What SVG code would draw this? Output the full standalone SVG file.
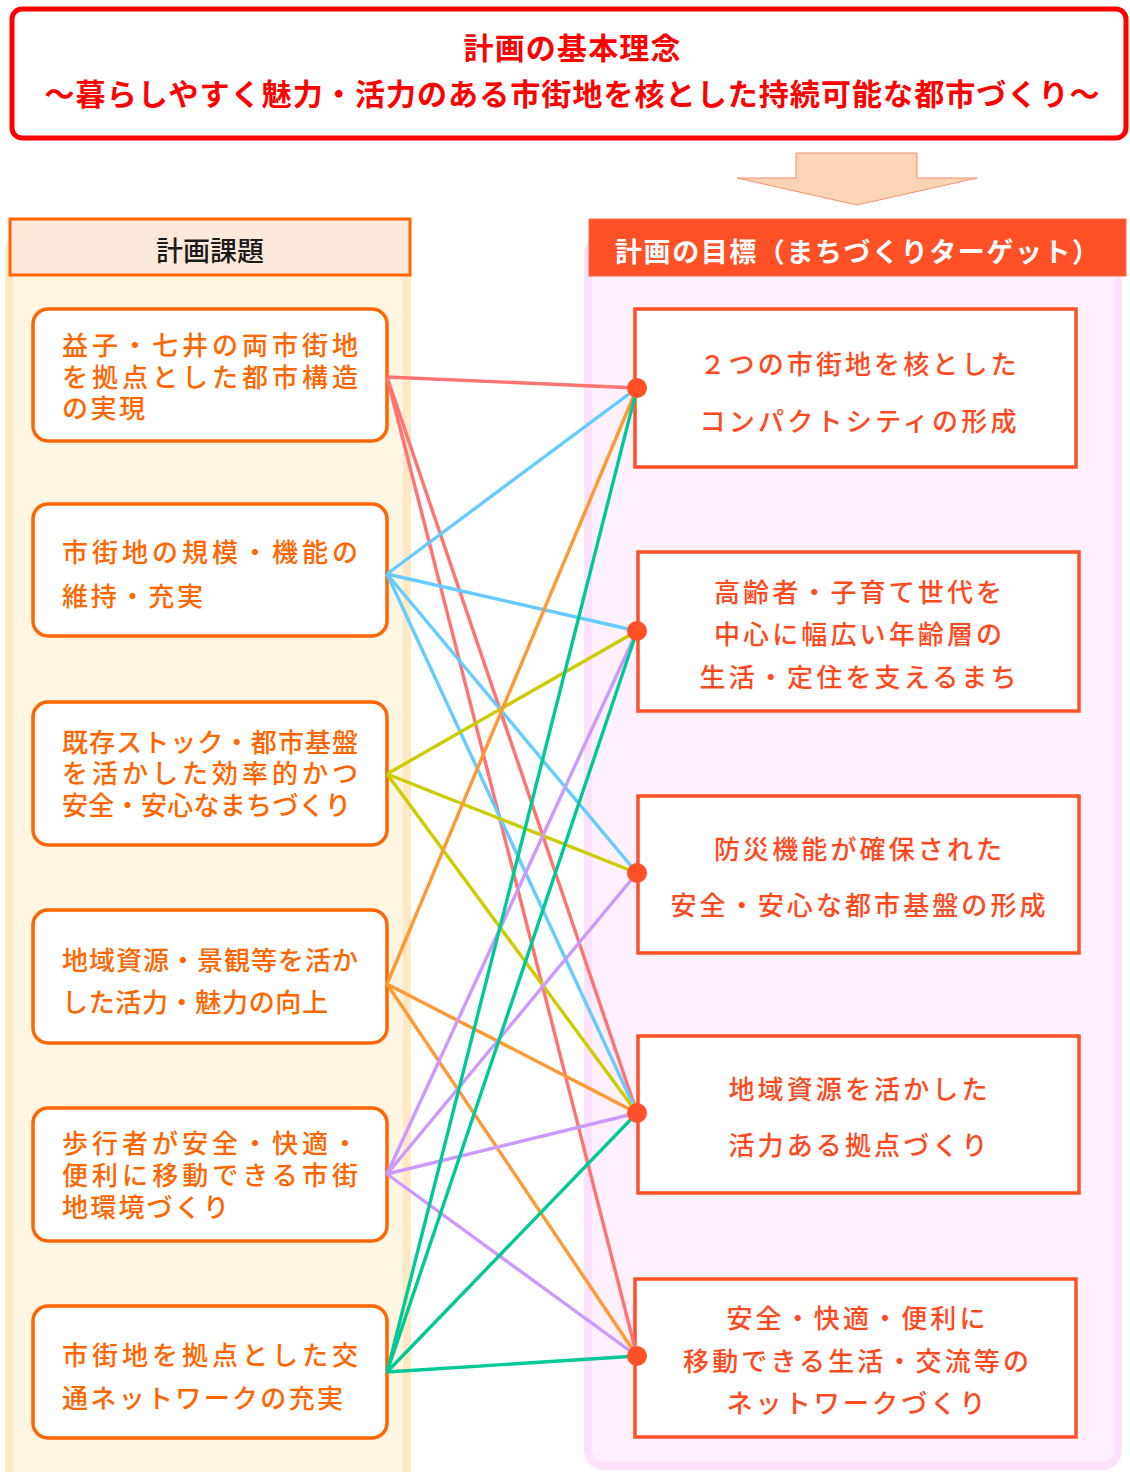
<svg xmlns="http://www.w3.org/2000/svg" width="1130" height="1472" viewBox="0 0 1130 1472">
<style>
text { font-family: "Noto Sans CJK JP", "Noto Sans", sans-serif; }
.title { fill: #ff0000; font-size: 30px; font-weight: bold; text-anchor: middle; }
.lnode { fill: #ffffff; stroke: #ff6600; stroke-width: 3.5; }
.ltxt { fill: #ff6600; font-size: 26px; font-weight: 500; }
.rnode { fill: #ffffff; stroke: #ff5027; stroke-width: 3.5; }
.rtxt { fill: #ff4a1f; font-size: 26px; font-weight: 500; text-anchor: middle; }
.conn line { stroke-width: 3.4; fill: none; }
.c1 { stroke: #ff7373; }
.c2 { stroke: #66ccff; }
.c3 { stroke: #cccc00; }
.c4 { stroke: #ff9933; }
.c5 { stroke: #cc99ff; }
.c6 { stroke: #00c896; }
.dot { fill: #ff5027; }
</style>

<!-- background panels -->
<rect id="left-panel" x="9" y="238" width="398" height="1260" rx="12" fill="#fff5e3" stroke="#ffe8c4" stroke-width="8"/>
<rect id="right-panel" x="588" y="238" width="530" height="1228" rx="16" fill="#fff0fe" stroke="#fde2fb" stroke-width="8"/>

<!-- title -->
<g id="title">
  <rect x="12" y="9" width="1114" height="129" rx="10" fill="#ffffff" stroke="#ff0000" stroke-width="5"/>
  <text class="title" x="572" y="59" textLength="217" lengthAdjust="spacing">計画の基本理念</text>
  <text class="title" x="572" y="105" textLength="1055" lengthAdjust="spacing">～暮らしやすく魅力・活力のある市街地を核とした持続可能な都市づくり～</text>
</g>

<!-- arrow -->
<g id="arrow">
  <polygon points="796,153 917,153 917,178 977,178 857,205 737,178 796,178" fill="#fcd5b4" stroke="#f7906f" stroke-width="1"/>
</g>

<!-- headers -->
<g id="left-header">
  <rect x="10" y="219" width="400" height="56" fill="#fde9db" stroke="#ff6600" stroke-width="3"/>
  <text x="210" y="261" font-size="27" font-weight="500" fill="#1a1a1a" text-anchor="middle">計画課題</text>
</g>
<g id="right-header">
  <rect x="589" y="219" width="537" height="57" fill="#ff5027" stroke="#ff6a45" stroke-width="1"/>
  <text x="857" y="262" font-size="27" font-weight="bold" fill="#ffffff" text-anchor="middle" textLength="484" lengthAdjust="spacing">計画の目標（まちづくりターゲット）</text>
</g>

<!-- left nodes -->
<g id="issue-1">
  <rect class="lnode" x="33" y="309" width="354" height="132" rx="15"/>
  <text class="ltxt" x="62" y="355" textLength="296" lengthAdjust="spacing">益子・七井の両市街地</text>
  <text class="ltxt" x="62" y="387" textLength="296" lengthAdjust="spacing">を拠点とした都市構造</text>
  <text class="ltxt" x="62" y="418" textLength="83" lengthAdjust="spacing">の実現</text>
</g>
<g id="issue-2">
  <rect class="lnode" x="33" y="504" width="354" height="132" rx="15"/>
  <text class="ltxt" x="62" y="562" textLength="296" lengthAdjust="spacing">市街地の規模・機能の</text>
  <text class="ltxt" x="62" y="606" textLength="141" lengthAdjust="spacing">維持・充実</text>
</g>
<g id="issue-3">
  <rect class="lnode" x="33" y="702" width="354" height="143" rx="15"/>
  <text class="ltxt" x="62" y="752" textLength="296" lengthAdjust="spacing">既存ストック・都市基盤</text>
  <text class="ltxt" x="62" y="783" textLength="296" lengthAdjust="spacing">を活かした効率的かつ</text>
  <text class="ltxt" x="62" y="815" textLength="289" lengthAdjust="spacing">安全・安心なまちづくり</text>
</g>
<g id="issue-4">
  <rect class="lnode" x="33" y="910" width="354" height="133" rx="15"/>
  <text class="ltxt" x="62" y="970" textLength="296" lengthAdjust="spacing">地域資源・景観等を活か</text>
  <text class="ltxt" x="62" y="1012" textLength="266" lengthAdjust="spacing">した活力・魅力の向上</text>
</g>
<g id="issue-5">
  <rect class="lnode" x="33" y="1108" width="354" height="133" rx="15"/>
  <text class="ltxt" x="62" y="1153" textLength="296" lengthAdjust="spacing">歩行者が安全・快適・</text>
  <text class="ltxt" x="62" y="1185" textLength="296" lengthAdjust="spacing">便利に移動できる市街</text>
  <text class="ltxt" x="62" y="1217" textLength="167" lengthAdjust="spacing">地環境づくり</text>
</g>
<g id="issue-6">
  <rect class="lnode" x="33" y="1306" width="354" height="132" rx="15"/>
  <text class="ltxt" x="62" y="1365" textLength="296" lengthAdjust="spacing">市街地を拠点とした交</text>
  <text class="ltxt" x="62" y="1408" textLength="281" lengthAdjust="spacing">通ネットワークの充実</text>
</g>

<!-- right nodes -->
<g id="target-1">
  <rect class="rnode" x="635" y="309" width="441" height="158"/>
  <text class="rtxt" x="858" y="374" textLength="317" lengthAdjust="spacing">２つの市街地を核とした</text>
  <text class="rtxt" x="858" y="431" textLength="317" lengthAdjust="spacing">コンパクトシティの形成</text>
</g>
<g id="target-2">
  <rect class="rnode" x="638" y="552" width="441" height="159"/>
  <text class="rtxt" x="858" y="602" textLength="288" lengthAdjust="spacing">高齢者・子育て世代を</text>
  <text class="rtxt" x="858" y="644" textLength="288" lengthAdjust="spacing">中心に幅広い年齢層の</text>
  <text class="rtxt" x="858" y="687" textLength="317" lengthAdjust="spacing">生活・定住を支えるまち</text>
</g>
<g id="target-3">
  <rect class="rnode" x="638" y="796" width="441" height="157"/>
  <text class="rtxt" x="858" y="859" textLength="288" lengthAdjust="spacing">防災機能が確保された</text>
  <text class="rtxt" x="858" y="915" textLength="375" lengthAdjust="spacing">安全・安心な都市基盤の形成</text>
</g>
<g id="target-4">
  <rect class="rnode" x="638" y="1036" width="441" height="157"/>
  <text class="rtxt" x="858" y="1099" textLength="259" lengthAdjust="spacing">地域資源を活かした</text>
  <text class="rtxt" x="858" y="1155" textLength="259" lengthAdjust="spacing">活力ある拠点づくり</text>
</g>
<g id="target-5">
  <rect class="rnode" x="635" y="1279" width="441" height="158"/>
  <text class="rtxt" x="856" y="1328" textLength="259" lengthAdjust="spacing">安全・快適・便利に</text>
  <text class="rtxt" x="856" y="1371" textLength="346" lengthAdjust="spacing">移動できる生活・交流等の</text>
  <text class="rtxt" x="856" y="1413" textLength="259" lengthAdjust="spacing">ネットワークづくり</text>
</g>

<!-- connectors -->
<g id="connectors" class="conn">
  <line class="c1" x1="387" y1="377" x2="637" y2="388"/>
  <line class="c1" x1="387" y1="377" x2="637" y2="1113"/>
  <line class="c1" x1="387" y1="377" x2="637" y2="1356"/>
  <line class="c2" x1="387" y1="574" x2="637" y2="388"/>
  <line class="c2" x1="387" y1="574" x2="637" y2="631"/>
  <line class="c2" x1="387" y1="574" x2="637" y2="873"/>
  <line class="c2" x1="387" y1="574" x2="637" y2="1113"/>
  <line class="c3" x1="387" y1="774" x2="637" y2="631"/>
  <line class="c3" x1="387" y1="774" x2="637" y2="873"/>
  <line class="c3" x1="387" y1="774" x2="637" y2="1113"/>
  <line class="c4" x1="387" y1="984" x2="637" y2="388"/>
  <line class="c4" x1="387" y1="984" x2="637" y2="1113"/>
  <line class="c4" x1="387" y1="984" x2="637" y2="1356"/>
  <line class="c5" x1="387" y1="1174" x2="637" y2="631"/>
  <line class="c5" x1="387" y1="1174" x2="637" y2="873"/>
  <line class="c5" x1="387" y1="1174" x2="637" y2="1113"/>
  <line class="c5" x1="387" y1="1174" x2="637" y2="1356"/>
  <line class="c6" x1="387" y1="1372" x2="637" y2="388"/>
  <line class="c6" x1="387" y1="1372" x2="637" y2="631"/>
  <line class="c6" x1="387" y1="1372" x2="637" y2="1113"/>
  <line class="c6" x1="387" y1="1372" x2="637" y2="1356"/>
  <circle class="dot" cx="637" cy="388" r="10"/>
  <circle class="dot" cx="637" cy="631" r="10"/>
  <circle class="dot" cx="637" cy="873" r="10"/>
  <circle class="dot" cx="637" cy="1113" r="10"/>
  <circle class="dot" cx="637" cy="1356" r="10"/>
</g>
</svg>
